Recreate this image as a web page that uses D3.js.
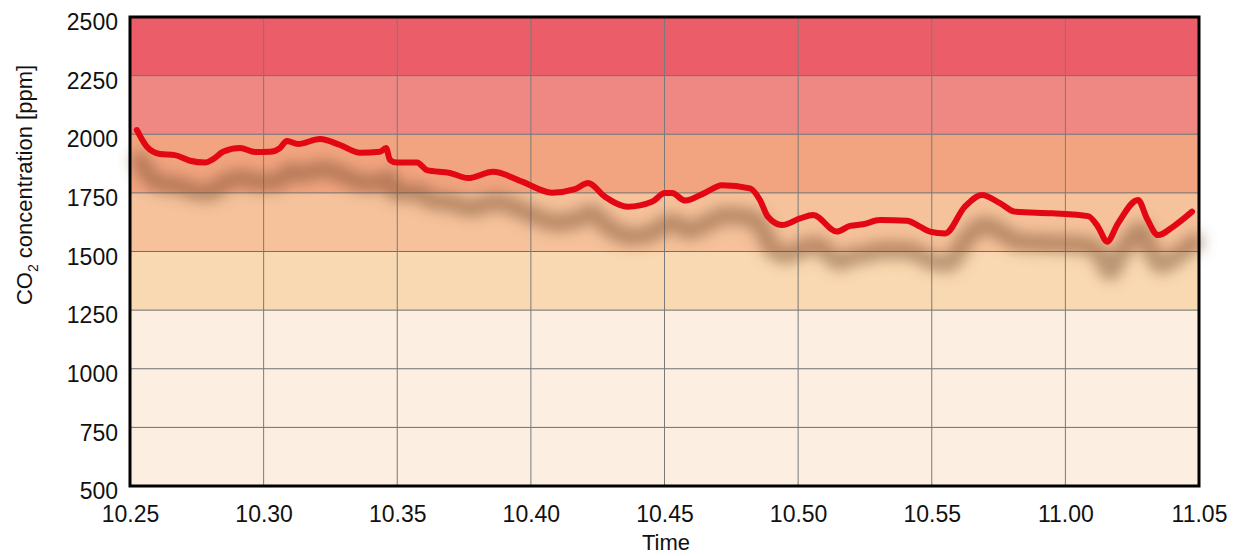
<!DOCTYPE html>
<html>
<head>
<meta charset="utf-8">
<script src="https://cdn.jsdelivr.net/npm/d3@7"></script>
<style>
  html, body { margin: 0; padding: 0; background: #ffffff; }
  svg { display: block; font-family: "Liberation Sans", Arial, sans-serif; }
</style>
</head>
<body>
<svg id="chart" width="1237" height="556"></svg>
<script>
// ---- data ----
const minutes = [0.26, 0.64, 1.12, 1.68, 2.24, 2.81, 3.11, 3.48, 4.12, 4.68, 5.24, 5.61, 5.87, 6.29, 7.11, 7.86, 8.61, 9.35, 9.58, 9.73, 9.99,
  10.74, 11.11, 11.97, 12.65, 13.58, 14.67, 15.79, 16.65, 17.14, 17.77, 18.63, 19.53, 20.02, 20.28, 20.77, 21.52, 22.15, 23.20, 23.57, 23.87,
  24.40, 25.07, 25.56, 26.45, 26.94, 27.43, 28.06, 29.07, 29.56, 29.93, 30.50, 31.24, 31.88, 32.55, 33.11, 34.50, 35.85, 36.22, 36.56, 36.97,
  37.72, 38.05, 38.47, 39.03, 39.74];
const co2 = [2018, 1946, 1916, 1911, 1887, 1879, 1894, 1925, 1941, 1924, 1925, 1941, 1971, 1958, 1980, 1954, 1921, 1925, 1941, 1890, 1879,
  1880, 1847, 1835, 1813, 1840, 1798, 1751, 1766, 1792, 1734, 1691, 1712, 1749, 1749, 1717, 1751, 1783, 1769, 1720, 1648,
  1613, 1641, 1656, 1585, 1609, 1616, 1634, 1631, 1606, 1585, 1577, 1691, 1741, 1706, 1670, 1663, 1651, 1606, 1542, 1620,
  1720, 1641, 1570, 1606, 1670];
const tickMinutes = [0, 5, 10, 15, 20, 25, 30, 35, 40];
const tickLabels = ["10.25", "10.30", "10.35", "10.40", "10.45", "10.50", "10.55", "11.00", "11.05"];
const yTicks = [500, 750, 1000, 1250, 1500, 1750, 2000, 2250, 2500];
const bandLower = [500, 1250, 1500, 1750, 2000, 2250];
const bandUpper = [1250, 1500, 1750, 2000, 2250, 2500];
const bandColors = ["#fcefe1", "#f9d9b2", "#f5c29b", "#f2a480", "#ef8883", "#eb5e69"];

// ---- layout ----
const svg = d3.select("#chart");
const L = 130, R = 1199, T = 17, B = 486;
const x = d3.scaleLinear().domain([0, 40]).range([L, R]);
const y = d3.scaleLinear().domain([500, 2500]).range([B, T]);

// shadow filter
const defs = svg.append("defs");
const f = defs.append("filter").attr("id", "shadow")
  .attr("x", "-10%").attr("y", "-50%").attr("width", "120%").attr("height", "300%");
f.append("feGaussianBlur").attr("in", "SourceGraphic").attr("stdDeviation", 7).attr("result", "b");
f.append("feOffset").attr("in", "b").attr("dx", 3).attr("dy", 30);

// bands
svg.append("g").selectAll("rect").data(bandLower).join("rect")
  .attr("x", L).attr("width", R - L)
  .attr("y", (d, i) => y(bandUpper[i]))
  .attr("height", (d, i) => y(d) - y(bandUpper[i]))
  .attr("fill", (d, i) => bandColors[i]);

// gridlines
svg.append("g").selectAll("line").data(yTicks).join("line")
  .attr("x1", L).attr("x2", R).attr("y1", d => y(d)).attr("y2", d => y(d))
  .attr("stroke", "#6f6f6f").attr("stroke-width", 1);
svg.append("g").selectAll("line").data(tickMinutes).join("line")
  .attr("x1", d => x(d)).attr("x2", d => x(d)).attr("y1", T).attr("y2", B)
  .attr("stroke", "#7a7a7a").attr("stroke-width", 1);

const pts = minutes.map((m, i) => [m, co2[i]]);
const line = d3.line().x(d => x(d[0])).y(d => y(d[1])).curve(d3.curveMonotoneX);

// shadow
svg.append("path").datum(pts)
  .attr("d", line)
  .attr("fill", "none")
  .attr("stroke", "#7a4e34")
  .attr("stroke-opacity", 0.5)
  .attr("stroke-width", 18)
  .attr("stroke-linecap", "round")
  .attr("filter", "url(#shadow)");

// main line
svg.append("path").datum(pts)
  .attr("d", line)
  .attr("fill", "none")
  .attr("stroke", "#e30613")
  .attr("stroke-width", 6)
  .attr("stroke-linecap", "round")
  .attr("stroke-linejoin", "round");

// frame
svg.append("rect").attr("x", L).attr("y", T).attr("width", R - L).attr("height", B - T)
  .attr("fill", "none").attr("stroke", "#000").attr("stroke-width", 3);

// axes (D3 axes, styled)
const xAxis = d3.axisBottom(x).tickValues(tickMinutes)
  .tickFormat((d, i) => tickLabels[i]).tickSize(0).tickPadding(20);
const gx = svg.append("g").attr("transform", `translate(0,${B})`).call(xAxis);
gx.select(".domain").remove();
gx.selectAll("text").attr("font-size", 23).attr("fill", "#111").attr("font-family", "Liberation Sans, Arial, sans-serif");

const yAxis = d3.axisLeft(y).tickValues(yTicks).tickFormat(d3.format("d")).tickSize(0).tickPadding(12);
const gy = svg.append("g").attr("transform", `translate(${L},0)`).call(yAxis);
gy.select(".domain").remove();
gy.selectAll("text").attr("font-size", 23).attr("fill", "#111").attr("dy", "0.55em").attr("font-family", "Liberation Sans, Arial, sans-serif");

// axis titles
const yt = svg.append("text")
  .attr("transform", "translate(32,185) rotate(-90)")
  .attr("text-anchor", "middle")
  .attr("font-size", 22).attr("fill", "#111");
yt.append("tspan").text("CO");
yt.append("tspan").attr("font-size", 14).attr("dy", 6).text("2");
yt.append("tspan").attr("dy", -6).text(" concentration [ppm]");

svg.append("text").attr("x", 666).attr("y", 550)
  .attr("text-anchor", "middle").attr("font-size", 22).attr("fill", "#111").text("Time");
</script>
</body>
</html>
